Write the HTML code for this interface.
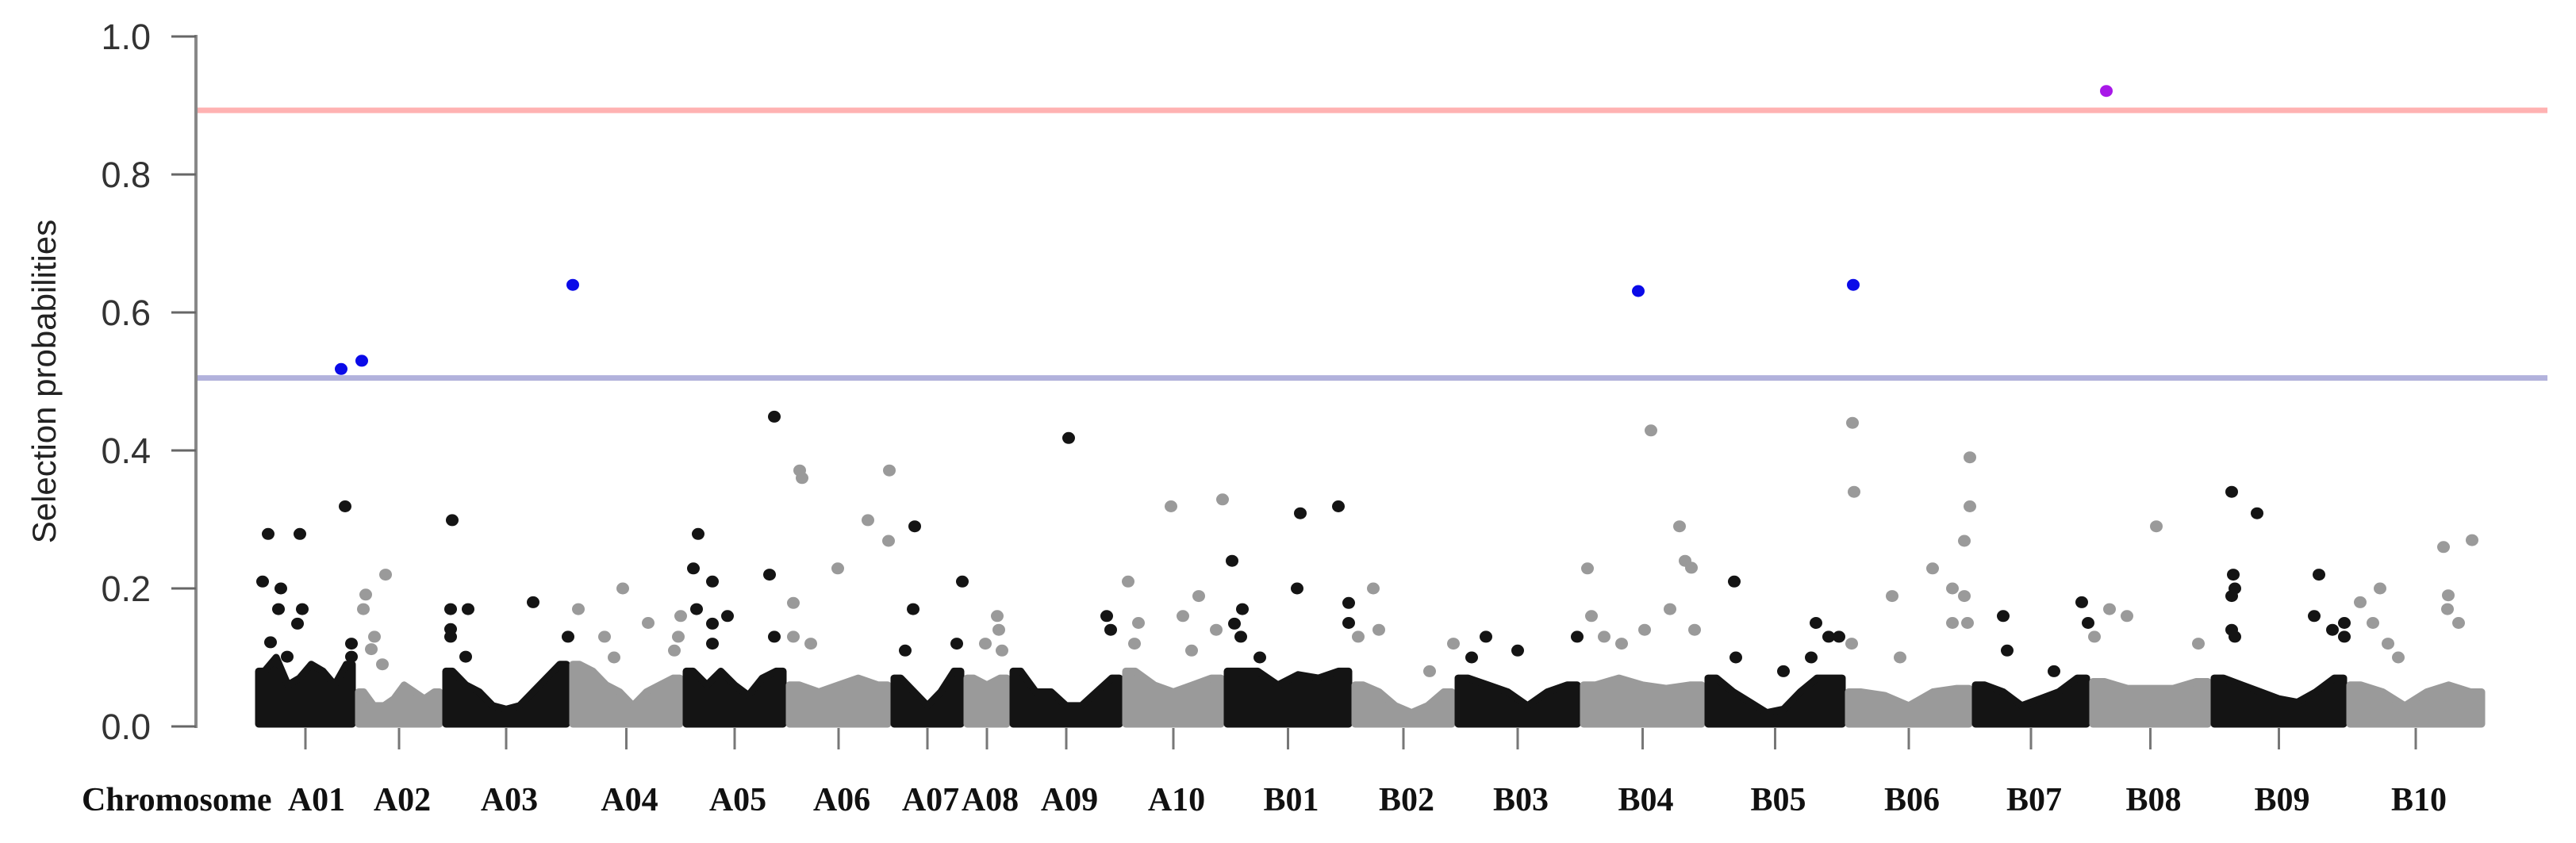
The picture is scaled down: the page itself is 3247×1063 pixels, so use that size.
<!DOCTYPE html>
<html><head><meta charset="utf-8"><style>
html,body{margin:0;padding:0;background:#fff;}
svg{display:block;}
</style></head><body>
<svg id="chart" width="3247" height="1063" viewBox="0 0 3247 1063" xmlns="http://www.w3.org/2000/svg">
<g id="mass"></g>
<g id="lines"></g>
<g id="pts"></g>
<g id="axes"></g>
</svg>
<script>
const chromNames = ["A01","A02","A03","A04","A05","A06","A07","A08","A09","A10","B01","B02","B03","B04","B05","B06","B07","B08","B09","B10"];
const chromLengths = [126,110,160,143,130,132,92,58,142,128,161,130,158,157,177,160,148,153,171,174];
const massHeights = [
 [0.08,0.1,0.06,0.07,0.09,0.08,0.06,0.09],
 [0.05,0.03,0.03,0.04,0.06,0.05,0.04,0.05],
 [0.08,0.06,0.05,0.03,0.025,0.03,0.05,0.07,0.09],
 [0.09,0.08,0.06,0.05,0.03,0.05,0.06,0.07],
 [0.08,0.06,0.08,0.06,0.045,0.07,0.08],
 [0.06,0.05,0.06,0.07,0.06],
 [0.07,0.05,0.03,0.05,0.08],
 [0.07,0.06,0.07],
 [0.08,0.05,0.05,0.03,0.03,0.05,0.07],
 [0.08,0.06,0.05,0.06,0.07],
 [0.08,0.08,0.06,0.075,0.07,0.08],
 [0.06,0.05,0.03,0.02,0.03,0.05],
 [0.07,0.06,0.05,0.03,0.05,0.06],
 [0.06,0.07,0.06,0.055,0.06],
 [0.07,0.05,0.035,0.02,0.025,0.05,0.07,0.07],
 [0.05,0.045,0.03,0.05,0.055],
 [0.06,0.05,0.03,0.04,0.05,0.07],
 [0.065,0.055,0.055,0.055,0.065],
 [0.07,0.06,0.05,0.04,0.035,0.05,0.07],
 [0.06,0.05,0.03,0.05,0.06,0.05]
];
const pointPos = [16,56,113,9,32,29,59,53,19,121,40,121,108,134,
 164,139,136,150,146,160,
 248,246,268,246,246,265,350,394,400,
 407,463,440,495,452,536,533,528,
 558,552,576,556,576,595,576,648,654,654,
 686,689,799,772,798,734,678,678,700,
 831,829,891,884,819,
 935,937,920,941,
 1073,1078,1025,
 1100,1113,1108,1154,1189,1169,1211,1180,1219,
 1231,1244,1234,1242,1313,1317,1365,1378,1378,1266,
 1409,1416,1390,1480,1510,
 1551,1533,1591,1666,
 1679,1684,1795,1802,1810,1783,1751,1814,1700,1722,1759,1743,
 1864,1866,1967,1983,1996,1961,1926,2014,
 2013,2015,2012,2063,2114,2139,2154,2154,2161,2161,2139,2158,2073,
 2203,2208,2302,2310,2267,
 2337,2359,2318,2396,2449,2333,
 2491,2523,2493,2495,2491,2491,2495,2601,2595,2618,2633,2633,
 2653,2678,2669,2688,2701,2758,2794,2764,2763,2777];
const pointVal = [0.279,0.279,0.319,0.21,0.2,0.17,0.17,0.149,0.122,0.12,0.101,0.101,0.518,0.53,
 0.22,0.191,0.17,0.13,0.112,0.09,
 0.299,0.17,0.17,0.141,0.13,0.101,0.18,0.13,0.64,
 0.17,0.2,0.13,0.15,0.1,0.16,0.13,0.11,
 0.279,0.229,0.21,0.17,0.149,0.16,0.12,0.22,0.13,0.449,
 0.371,0.36,0.371,0.299,0.269,0.229,0.179,0.13,0.12,
 0.29,0.17,0.21,0.12,0.11,
 0.16,0.14,0.12,0.11,
 0.16,0.14,0.418,
 0.21,0.15,0.12,0.319,0.189,0.16,0.14,0.11,0.329,
 0.24,0.17,0.149,0.13,0.2,0.309,0.319,0.179,0.15,0.1,
 0.2,0.14,0.13,0.08,0.12,
 0.13,0.1,0.11,0.13,
 0.229,0.16,0.29,0.24,0.23,0.17,0.14,0.14,0.13,0.12,0.429,0.631,
 0.21,0.1,0.15,0.13,0.13,0.1,0.08,0.64,
 0.44,0.34,0.12,0.189,0.229,0.2,0.189,0.269,0.319,0.39,0.15,0.15,0.1,
 0.16,0.11,0.18,0.15,0.08,
 0.17,0.16,0.13,0.29,0.12,0.921,
 0.34,0.309,0.22,0.2,0.189,0.14,0.13,0.22,0.16,0.14,0.15,0.13,
 0.18,0.2,0.15,0.12,0.1,0.26,0.27,0.19,0.17,0.15];
const yTicks = [0,0.2,0.4,0.6,0.8,1.0];
const yTickLabels = ["0.0","0.2","0.4","0.6","0.8","1.0"];
const redThreshold = 0.893;
const blueThreshold = 0.505;

const NS="http://www.w3.org/2000/svg";
const X0=322, X1=3132, Y0=916, Y1=46;
const total = chromLengths.reduce((a,b)=>a+b,0);
const xs = u => X0 + u*(X1-X0)/total;
const ys = v => Y0 - v*(Y0-Y1);
const starts=[]; {let s=0; for(const l of chromLengths){starts.push(s); s+=l;}}
function mk(tag,attrs,parent){const e=document.createElementNS(NS,tag);for(const k in attrs)e.setAttribute(k,attrs[k]);parent.appendChild(e);return e;}
const colorOf = i => (i%2===0) ? "#141414" : "#9a9a9a";
function chromOf(u){let c=0;for(let i=0;i<starts.length;i++){if(u>=starts[i])c=i;}return c;}

// mass
const gm=document.getElementById('mass');
chromNames.forEach((nm,i)=>{
  const h=massHeights[i], n=h.length, s=starts[i], L=chromLengths[i];
  const xa=xs(s)+4, xb=xs(s+L)-4;
  let d="M"+xa+","+(Y0-3)+" L"+xa+","+ys(h[0]);
  h.forEach((v,k)=>{ d+=" L"+(xa+(k+0.5)/n*(xb-xa)).toFixed(1)+","+ys(v).toFixed(1); });
  d+=" L"+xb+","+ys(h[n-1])+" L"+xb+","+(Y0-3)+" Z";
  const p=mk('path',{d:d,fill:colorOf(i),stroke:colorOf(i),"stroke-width":9,"stroke-linejoin":"round"},gm);
  
  
});

// threshold lines
const gl=document.getElementById('lines');
const rl=mk('line',{x1:249,x2:3211,y1:ys(redThreshold),y2:ys(redThreshold),stroke:"#ffb2b2","stroke-width":7},gl);


const bl=mk('line',{x1:249,x2:3211,y1:ys(blueThreshold),y2:ys(blueThreshold),stroke:"#b2b2dc","stroke-width":7},gl);



// points
const gp=document.getElementById('pts');
pointPos.forEach((u,k)=>{
  const v=pointVal[k];
  let col;
  if(v>redThreshold) col="#a818e8"; else if(v>blueThreshold) col="#0a0ae8"; else col=colorOf(chromOf(u));
  const c=mk('ellipse',{cx:xs(u).toFixed(1),cy:ys(v).toFixed(1),rx:8,ry:7.5,fill:col},gp);
  
  
});

// axes
const ga=document.getElementById('axes');
const ax=mk('line',{x1:247,x2:247,y1:Y1-2,y2:Y0+2,stroke:"#888","stroke-width":4},ga);


yTicks.forEach((t,k)=>{
  const tl=mk('line',{x1:216,x2:247,y1:ys(t),y2:ys(t),stroke:"#666","stroke-width":3},ga);
  
  
  const tx=mk('text',{x:190,y:ys(t)+16,"text-anchor":"end","font-family":"Liberation Sans, sans-serif","font-size":45,fill:"#333"},ga);
  tx.textContent=yTickLabels[k];
  
  
});
const yt=mk('text',{x:0,y:0,transform:"translate(70,481) rotate(-90)","text-anchor":"middle","font-family":"Liberation Sans, sans-serif","font-size":42,fill:"#222"},ga);
yt.textContent="Selection probabilities";


chromNames.forEach((nm,i)=>{
  const cx=xs(starts[i]+chromLengths[i]/2);
  const tk=mk('line',{x1:cx,x2:cx,y1:Y0+2,y2:945,stroke:"#777","stroke-width":3},ga);
  
  
  const lb=mk('text',{x:cx+(i===0?14:4),y:1022,"text-anchor":"middle","font-family":"Liberation Serif, serif","font-weight":"bold","font-size":42,fill:"#111"},ga);
  lb.textContent=nm;
  
  
});
const ct=mk('text',{x:103,y:1022,"text-anchor":"start","font-family":"Liberation Serif, serif","font-weight":"bold","font-size":42,fill:"#111"},ga);
ct.textContent="Chromosome";


</script>
</body></html>
